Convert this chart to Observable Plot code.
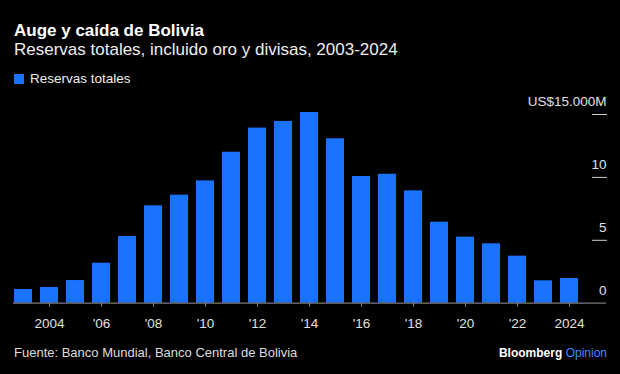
<!DOCTYPE html>
<html>
<head>
<meta charset="utf-8">
<script src="https://cdn.jsdelivr.net/npm/d3@7"></script>
<script src="https://cdn.jsdelivr.net/npm/@observablehq/plot@0.6"></script>
<style>
  html, body { margin: 0; padding: 0; background: #000; }
  #wrap { position: relative; width: 620px; height: 374px; background: #000; overflow: hidden;
          font-family: "Liberation Sans", Arial, sans-serif; color: #fff; }
  .abs { position: absolute; white-space: nowrap; line-height: 1; }
  #title { left: 14px; top: 22px; font-size: 17px; font-weight: bold; color: #fff; }
  #subtitle { left: 14px; top: 41px; font-size: 17px; color: #eee; }
  #legend { left: 14px; top: 72px; font-size: 13.5px; color: #eee; display: flex; align-items: center; }
  #legend .sw { width: 10px; height: 10px; background: #1a73ff; margin-right: 6px; }
  #chart { position: absolute; left: 0; top: 88px; }
  #source { left: 14px; top: 346px; font-size: 13px; color: #ddd; }
  #brand { right: 13px; top: 347px; font-size: 12px; color: #fff; }
  #brand b { font-weight: bold; }
  #brand span { color: #3d8bff; }
</style>
</head>
<body>
<div id="wrap">
  <div id="title" class="abs">Auge y caída de Bolivia</div>
  <div id="subtitle" class="abs">Reservas totales, incluido oro y divisas, 2003-2024</div>
  <div id="legend" class="abs"><div class="sw"></div><div>Reservas totales</div></div>
  <div id="chart"></div>
  <div id="source" class="abs">Fuente: Banco Mundial, Banco Central de Bolivia</div>
  <div id="brand" class="abs"><b>Bloomberg</b> <span>Opinion</span></div>
</div>
<script>
const years = [2003,2004,2005,2006,2007,2008,2009,2010,2011,2012,2013,2014,2015,2016,2017,2018,2019,2020,2021,2022,2023,2024];
const reserves = [1.09,1.25,1.8,3.18,5.3,7.74,8.59,9.72,12.0,13.92,14.45,15.16,13.07,10.07,10.25,8.93,6.44,5.25,4.72,3.74,1.78,1.96];
const xTickYears = [2004,2006,2008,2010,2012,2014,2016,2018,2020,2022,2024];
const xTickLabels = ["2004","'06","'08","'10","'12","'14","'16","'18","'20","'22","2024"];
const yTickValues = [0,5,10,15];
const yTickLabels = ["0","5","10","US$15.000M"];

const data = years.map((y, i) => ({year: y, value: reserves[i]}));
const xLabel = new Map(xTickYears.map((y, i) => [y, xTickLabels[i]]));
const yLabel = new Map(yTickValues.map((v, i) => [v, yTickLabels[i]]));

const chart = Plot.plot({
  width: 620,
  height: 250,
  marginTop: 26,
  marginBottom: 35.3,
  marginLeft: 13,
  marginRight: 14,
  style: {background: "#000", color: "#ddd", fontFamily: "Liberation Sans, Arial, sans-serif"},
  x: {type: "band", domain: years, range: [9.5, 581.5], paddingInner: 0.31, paddingOuter: 0.155},
  y: {domain: [0, 15]},
  marks: [
    Plot.barY(data, {x: "year", y: "value", fill: "#1a73ff"}),
    Plot.ruleY([0], {stroke: "#7a7a7a", strokeWidth: 1.2}),
    Plot.axisX({ticks: xTickYears, tickFormat: d => xLabel.get(d), tickSize: 4, tickPadding: 11,
                stroke: "#888", fill: "#e0e0e0", fontSize: 13.5, label: null}),
    Plot.axisY({anchor: "right", ticks: [5, 10, 15], tickSize: 15, dx: -15, tickFormat: () => "",
                stroke: "#cfcfcf", label: null}),
    Plot.text(yTickValues, {y: d => d, text: d => yLabel.get(d), frameAnchor: "right", textAnchor: "end",
                dy: -13, fill: "#e0e0e0", fontSize: 13.5})
  ]
});
document.getElementById("chart").appendChild(chart);
</script>
</body>
</html>
